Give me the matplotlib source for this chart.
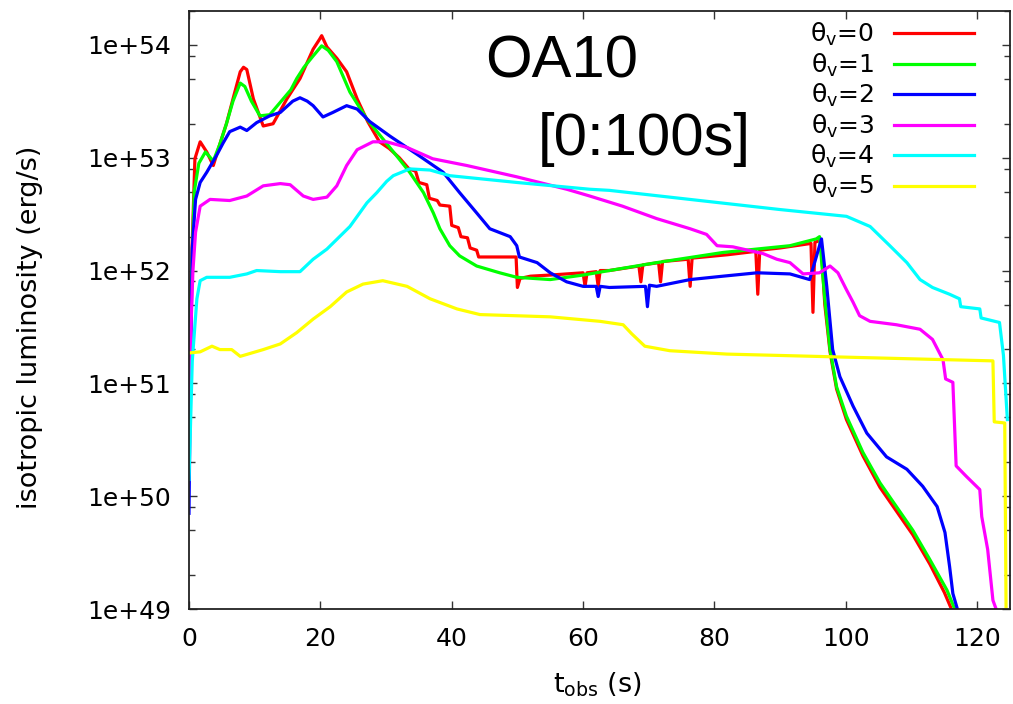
import numpy as np
import matplotlib
matplotlib.use("Agg")
import matplotlib.pyplot as plt
from matplotlib.ticker import LogLocator, NullFormatter, FuncFormatter, MultipleLocator

# light curves: time (s) and log10 L (erg/s)
t0 = [0, 0.3, 0.9, 1.7, 2.7, 3.7, 4.7, 5.7, 6.7, 7.8, 8.3, 8.8, 9.8, 11.3, 12.8, 14.9, 16.9, 18.9,
      19.9, 20.2, 21.0, 22.5, 24.0, 25.6, 27.2, 29.0, 30.5, 32.0, 33.5, 34.5, 35.0, 36.2, 36.6, 37.8,
      38.2, 39.7, 40.0, 41.0, 41.4, 42.4, 42.8, 43.8, 44.1, 49.8, 50.0, 50.4, 52.0, 55.0, 60.0, 60.3,
      60.6, 62.0, 62.3, 62.6, 64.0, 68.5, 68.8, 69.1, 71.5, 71.8, 72.1, 76.0, 76.3, 76.6, 82.0, 86.3,
      86.6, 86.9, 90.0, 94.7, 95.0, 95.3, 96.2, 96.8, 97.6, 98.6, 100.1, 102.6, 105.2, 107.7, 110.2,
      112.8, 115.0, 116.1]
L0 = [50.6, 51.9, 52.99, 53.14, 53.05, 52.93, 53.12, 53.30, 53.52, 53.76, 53.80, 53.78, 53.52, 53.28,
      53.30, 53.52, 53.70, 53.96, 54.05, 54.08, 53.98, 53.88, 53.76, 53.52, 53.32, 53.14, 53.08, 53.00,
      52.90, 52.88, 52.78, 52.76, 52.64, 52.62, 52.58, 52.57, 52.40, 52.38, 52.30, 52.29, 52.20, 52.18,
      52.12, 52.12, 51.85, 51.93, 51.95, 51.96, 51.98, 51.86, 51.98, 51.99, 51.86, 52.00, 52.00, 52.04,
      51.90, 52.05, 52.07, 51.90, 52.08, 52.10, 51.86, 52.11, 52.14, 52.17, 51.79, 52.18, 52.20, 52.24,
      51.63, 52.25, 52.27, 51.70, 51.28, 50.95, 50.68, 50.36, 50.08, 49.87, 49.66, 49.40, 49.15, 49.0]

t1 = [0, 0.3, 0.8, 1.5, 2.5, 3.7, 4.7, 5.7, 6.7, 7.8, 8.5, 9.5, 10.8, 12.3, 13.9, 15.5, 16.4, 17.5,
      18.9, 20.2, 21.2, 22.5, 24.5, 27.1, 29.6, 32.1, 33.6, 35.7, 37.2, 38.2, 39.7, 41.2, 43.8, 47.3,
      49.9, 55.0, 60.0, 64.0, 71.2, 81.3, 91.5, 95.5, 96.0, 96.8, 97.6, 98.6, 100.1, 102.6, 105.2,
      107.7, 110.2, 112.8, 115.4, 116.6]
L1 = [50.6, 51.8, 52.7, 52.95, 53.05, 52.97, 53.12, 53.30, 53.50, 53.66, 53.63, 53.50, 53.37, 53.38,
      53.49, 53.60, 53.70, 53.80, 53.90, 53.99, 53.95, 53.85, 53.58, 53.34, 53.16, 52.98, 52.87, 52.69,
      52.51, 52.37, 52.22, 52.13, 52.04, 51.98, 51.94, 51.92, 51.96, 52.00, 52.07, 52.16, 52.22, 52.28,
      52.30, 51.75, 51.30, 50.97, 50.71, 50.39, 50.12, 49.91, 49.70, 49.44, 49.17, 49.0]

t2 = [0, 0.2, 0.5, 1.0, 1.7, 2.7, 4.2, 5.2, 6.2, 7.8, 8.8, 10.3, 12.3, 13.9, 15.8, 16.9, 18.0, 18.9,
      20.4, 21.9, 24.0, 25.6, 27.5, 30.6, 34.7, 38.7, 41.2, 43.8, 45.8, 48.9, 49.9, 50.3, 53.0, 55.0,
      57.5, 60.0, 62.0, 62.3, 62.6, 64.0, 69.5, 69.8, 70.1, 71.2, 76.3, 81.3, 86.5, 91.5, 94.5, 96.3,
      97.1, 98.0, 99.1, 101.1, 103.2, 106.2, 109.3, 111.7, 113.9, 115.1, 115.8, 116.3, 117.0]
L2 = [49.85, 51.0, 52.2, 52.63, 52.78, 52.87, 53.02, 53.13, 53.23, 53.27, 53.24, 53.31, 53.37, 53.40,
      53.50, 53.53, 53.50, 53.46, 53.36, 53.40, 53.46, 53.43, 53.32, 53.19, 53.03, 52.87, 52.69, 52.51,
      52.37, 52.30, 52.22, 52.12, 52.07, 51.98, 51.90, 51.86, 51.86, 51.77, 51.86, 51.85, 51.86, 51.68,
      51.87, 51.86, 51.92, 51.95, 51.98, 51.97, 51.92, 52.28, 51.86, 51.30, 51.06, 50.80, 50.56, 50.35,
      50.24, 50.09, 49.91, 49.68, 49.38, 49.14, 49.0]

t3 = [0, 0.3, 0.6, 1.0, 1.7, 3.2, 6.2, 8.8, 11.3, 13.9, 15.4, 17.4, 18.9, 21.0, 22.5, 24.0, 25.6, 28.0,
      30.1, 33.2, 37.1, 42.3, 49.9, 57.5, 61.0, 66.0, 71.2, 76.3, 78.8, 80.4, 82.8, 87.4, 89.5, 91.5,
      93.5, 96.0, 97.6, 98.8, 100.1, 101.1, 102.1, 103.7, 107.7, 111.3, 113.2, 114.8, 115.2, 116.3,
      116.8, 118.3, 120.4, 120.7, 121.6, 122.4, 122.9]
L3 = [50.4, 51.5, 52.0, 52.34, 52.57, 52.63, 52.62, 52.66, 52.75, 52.77, 52.76, 52.66, 52.63, 52.65,
      52.75, 52.93, 53.07, 53.14, 53.14, 53.09, 52.99, 52.93, 52.83, 52.72, 52.66, 52.57, 52.46, 52.37,
      52.32, 52.22, 52.21, 52.15, 52.10, 52.07, 51.97, 51.98, 52.04, 51.98, 51.83, 51.72, 51.60, 51.55,
      51.52, 51.48, 51.39, 51.21, 51.04, 51.01, 50.27, 50.18, 50.06, 49.82, 49.53, 49.08, 49.0]

t4 = [0, 0.5, 1.2, 1.7, 2.7, 6.2, 8.8, 10.3, 13.9, 16.9, 18.9, 21.0, 24.5, 27.1, 28.6, 30.1, 31.1,
      33.6, 36.7, 39.7, 49.9, 61.0, 64.0, 90.0, 100.1, 103.7, 106.7, 109.3, 111.3, 113.2, 115.8, 117.3,
      117.5, 120.4, 120.6, 123.4, 124.0, 124.6]
L4 = [50.15, 51.2, 51.75, 51.91, 51.94, 51.94, 51.97, 52.00, 51.99, 51.99, 52.10, 52.19, 52.39, 52.60,
      52.69, 52.79, 52.84, 52.90, 52.89, 52.84, 52.78, 52.72, 52.71, 52.54, 52.48, 52.39, 52.22, 52.07,
      51.92, 51.85, 51.79, 51.75, 51.68, 51.66, 51.58, 51.54, 51.25, 50.68]

t5 = [0, 1.7, 3.5, 4.7, 6.5, 7.8, 11.3, 13.9, 16.4, 18.9, 21.5, 24.0, 26.5, 29.5, 33.2, 36.7, 40.8,
      44.3, 55.0, 62.6, 66.1, 67.4, 69.4, 73.2, 81.9, 102.0, 122.4, 122.6, 124.2, 124.4]
L5 = [51.27, 51.28, 51.33, 51.30, 51.30, 51.24, 51.30, 51.35, 51.45, 51.57, 51.68, 51.81, 51.88, 51.91,
      51.86, 51.75, 51.66, 51.61, 51.59, 51.55, 51.52, 51.44, 51.33, 51.29, 51.26, 51.23, 51.20, 50.66,
      50.65, 49.0]

times = [t0, t1, t2, t3, t4, t5]
lums = [L0, L1, L2, L3, L4, L5]
labels = ["θ$_\\mathrm{v}$=0", "θ$_\\mathrm{v}$=1", "θ$_\\mathrm{v}$=2",
          "θ$_\\mathrm{v}$=3", "θ$_\\mathrm{v}$=4", "θ$_\\mathrm{v}$=5"]
colors = ["#ff0000", "#00ff00", "#0000ff", "#ff00ff", "#00ffff", "#ffff00"]

plt.rcParams['font.family'] = ['DejaVu Sans']
plt.rcParams['mathtext.fontset'] = 'dejavusans'

W, H = 1013, 704
fig = plt.figure(figsize=(W / 100, H / 100), dpi=100)
x0, x1, y0, y1 = 189, 1010, 10.7, 609.3
ax = fig.add_axes([x0 / W, 1 - y1 / H, (x1 - x0) / W, (y1 - y0) / H])

for t, L, lab, c in zip(times, lums, labels, colors):
    ax.plot(t, 10 ** np.array(L), color=c, lw=2.3, label=lab)

ax.set_yscale('log')
ax.set_xlim(0, 125)
ax.set_ylim(1e49, 2e54)
ax.xaxis.set_major_locator(MultipleLocator(20))
ax.yaxis.set_major_locator(LogLocator(base=10, numticks=10))
ax.yaxis.set_minor_locator(LogLocator(base=10, subs=(2, 5, 8), numticks=20))
ax.yaxis.set_minor_formatter(NullFormatter())
ax.yaxis.set_major_formatter(FuncFormatter(lambda v, p: "1e+%d" % round(np.log10(v))))
ax.tick_params(which='both', direction='in', top=True, right=True, color='#333333', width=1.0)
ax.tick_params(which='major', length=6, labelsize=18, pad=13)
ax.tick_params(which='minor', length=4)
for s in ax.spines.values():
    s.set_linewidth(1.3)
    s.set_color('#222222')

fig.text(30 / W, 1 - 327 / H, "isotropic luminosity (erg/s)", rotation=90,
         ha='center', va='center', fontsize=19.5)
fig.text(597 / W, 1 - 685 / H, "t$_\\mathrm{obs}$ (s)", ha='center', va='center', fontsize=19.5)

fig.text(485 / W, 1 - 77 / H, "OA10", fontsize=43, family='Liberation Sans', va='baseline')
fig.text(538 / W, 1 - 155 / H, "[0:100s]", fontsize=43, family='Liberation Sans', va='baseline')

ax.legend(loc='upper right', bbox_to_anchor=((974 - x0) / (x1 - x0), (y1 - 21) / (y1 - y0)),
          frameon=False, markerfirst=False, fontsize=18, handlelength=3.2, handletextpad=0.8,
          labelspacing=0.13, borderpad=0, borderaxespad=0)

fig.savefig("out.png", dpi=100)
